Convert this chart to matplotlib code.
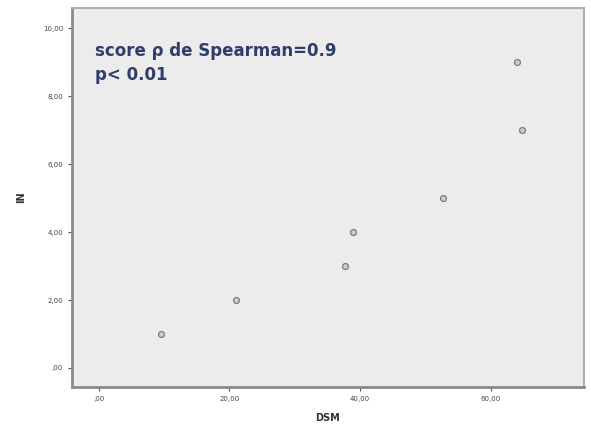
import matplotlib
matplotlib.use("Agg")
import matplotlib.pyplot as plt

dsm = [9.6, 21.0, 37.7, 39.0, 52.7, 64.0, 64.8]
ind = [1, 2, 3, 4, 5, 9, 7]

x_ticks = [0, 20, 40, 60]
x_labels = [",00", "20,00", "40,00", "60,00"]
y_ticks = [0, 2, 4, 6, 8, 10]
y_labels = [",00", "2,00", "4,00", "6,00", "8,00", "10,00"]

fig = plt.figure(figsize=(5.91, 4.24), dpi=100)
ax = fig.add_axes([72 / 591, 1 - 387 / 424, (584 - 72) / 591, (387 - 8) / 424])
ax.set_facecolor("#ececec")

ax.scatter(dsm, ind, s=18, facecolor="#cfcfcf", edgecolor="#7a7a7a", linewidth=0.9, zorder=3)

ax.set_xlim(-4.1, 74.3)
ax.set_ylim(-0.56, 10.6)
ax.set_xticks(x_ticks)
ax.set_xticklabels(x_labels)
ax.set_yticks(y_ticks)
ax.set_yticklabels(y_labels)
ax.tick_params(labelsize=5, length=3, color="#555555", labelcolor="#444444")

for side in ["left", "bottom"]:
    ax.spines[side].set_color("#8a8a8a")
    ax.spines[side].set_linewidth(2)
for side in ["top", "right"]:
    ax.spines[side].set_color("#b0b0b0")
    ax.spines[side].set_linewidth(1.5)

ax.set_xlabel("DSM", fontsize=7, fontweight="bold", color="#333333", labelpad=8)
ax.set_ylabel("IN", fontsize=7, fontweight="bold", color="#333333", labelpad=12)

# annotation, two lines
note = dict(transform=ax.transAxes, fontsize=12, fontweight="bold", color="#2e3d6c",
            va="baseline", ha="left")
ax.text(0.045, 0.873, "score ρ de Spearman=0.9", **note)
ax.text(0.045, 0.810, "p< 0.01", **note)

fig.savefig("out.png", dpi=100)
